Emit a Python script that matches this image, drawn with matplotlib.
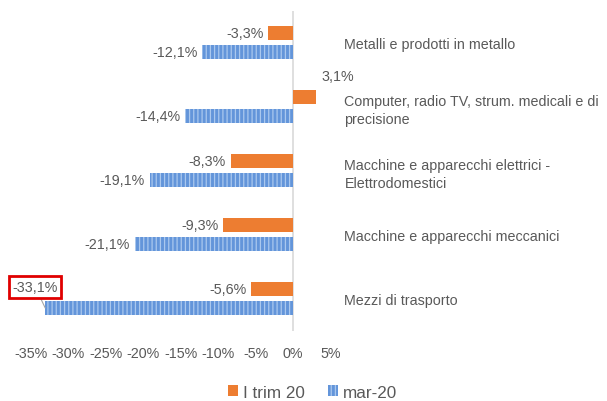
import numpy as np
from matplotlib import pyplot as plt
from matplotlib.patches import Patch

plt.rcParams['font.family'] = ['Liberation Sans', 'DejaVu Sans']
plt.rcParams['hatch.linewidth'] = 0.9

# categories, bottom to top
categories = [
    'Mezzi di trasporto',
    'Macchine e apparecchi meccanici',
    'Macchine e apparecchi elettrici -\nElettrodomestici',
    'Computer, radio TV, strum. medicali e di\nprecisione',
    'Metalli e prodotti in metallo',
]
trim_values = [-5.6, -9.3, -8.3, 3.1, -3.3]
mar_values = [-33.1, -21.1, -19.1, -14.4, -12.1]
x_ticks = [-35, -30, -25, -20, -15, -10, -5, 0, 5]
series_names = ['I trim 20', 'mar-20']

text_color = '#595959'
orange = '#ED7D31'
blue = '#6395DA'
blue_stripe = '#AAC8EE'
fs = 10.3


def fmt(v):
    return f'{v:.1f}%'.replace('.', ',')


fig = plt.figure(figsize=(6.07, 4.02), dpi=100)
ax = fig.add_axes([31 / 607, 70.5 / 402, 299.5 / 607, 320 / 402])

y = np.arange(len(categories))
bar_h = 0.21
off = 0.148

ax.barh(y + off, trim_values, height=bar_h, color=orange, linewidth=0)
ax.barh(y - off, mar_values, height=bar_h, color=blue, edgecolor=blue_stripe,
        hatch='||||', linewidth=0)

ax.set_xlim(-35, 5)
ax.set_ylim(-0.5, len(categories) - 0.5)
ax.axvline(0, color='#D9D9D9', linewidth=1.2, zorder=0)

for s in ax.spines.values():
    s.set_visible(False)

ax.set_xticks(x_ticks)
ax.set_xticklabels([f'{t}%' for t in x_ticks])
ax.tick_params(axis='x', length=0, pad=11, labelsize=fs, labelcolor=text_color)

ax.yaxis.tick_right()
ax.set_yticks(y)
ax.set_yticklabels(categories, linespacing=1.35)
ax.tick_params(axis='y', length=0, pad=10, labelsize=fs, labelcolor=text_color)

# data labels
for yi, v in zip(y, trim_values):
    if v < 0:
        ax.annotate(fmt(v), (v, yi + off), xytext=(-5, 0), textcoords='offset pixels',
                    ha='right', va='center', fontsize=fs, color=text_color)
    else:
        ax.annotate(fmt(v), (v, yi + off), xytext=(22, 21), textcoords='offset pixels',
                    ha='center', va='center', fontsize=fs, color=text_color)

for yi, v in zip(y, mar_values):
    if v > -30:
        ax.annotate(fmt(v), (v, yi - off), xytext=(-5, 0), textcoords='offset pixels',
                    ha='right', va='center', fontsize=fs, color=text_color)
    else:
        ax.annotate(fmt(v), (v, yi - off), xytext=(-10, 21), textcoords='offset pixels',
                    ha='center', va='center', fontsize=fs, color=text_color,
                    bbox=dict(boxstyle='square,pad=0.25', facecolor='white',
                              edgecolor='#E00000', linewidth=2),
                    arrowprops=dict(arrowstyle='-', color='#A6A6A6', linewidth=0.8,
                                    shrinkA=0, shrinkB=0))

handles = [Patch(facecolor=orange, linewidth=0),
           Patch(facecolor=blue, edgecolor=blue_stripe, hatch='||||', linewidth=0)]
fig.legend(handles, series_names, loc='lower center', bbox_to_anchor=(0.515, -0.035),
           ncol=2, frameon=False, handlelength=0.62, handleheight=0.62,
           handletextpad=0.3, columnspacing=1.3, fontsize=12.3, labelcolor=text_color)

fig.savefig('out.png', dpi=100)
